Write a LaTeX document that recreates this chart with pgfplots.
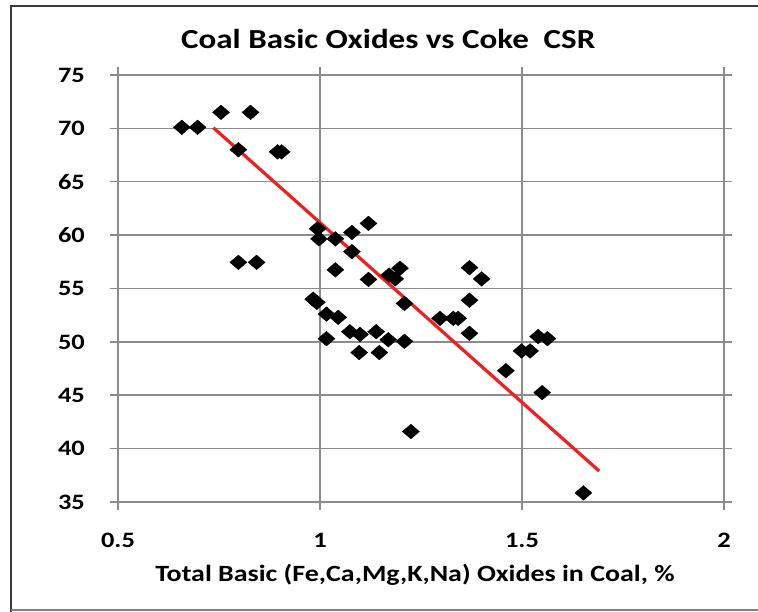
\documentclass[border=0pt]{standalone}
\usepackage{fontspec}
\setmainfont{Carlito}[FakeStretch=1.2]
\usepackage{pgfplots}
\pgfplotsset{compat=1.18}
\definecolor{gridc}{RGB}{140,140,140}
\definecolor{trend}{RGB}{238,32,32}
\pgfplotstableread{
x y
0.658 70.1
0.697 70.1
0.755 71.5
0.828 71.5
0.798 68.0
0.895 67.8
0.905 67.8
0.798 57.45
0.843 57.45
0.994 60.6
0.9975 59.65
1.038 59.65
1.079 60.25
1.12 61.1
1.038 56.75
1.079 58.45
1.12 55.85
1.171 56.25
1.198 56.9
1.186 55.9
0.983 54.0
0.992 53.7
1.016 52.6
1.045 52.3
1.209 53.6
1.297 52.2
1.33 52.2
1.342 52.2
1.37 53.9
1.37 56.95
1.40 55.9
1.37 50.8
1.016 50.3
1.074 50.95
1.099 50.7
1.139 50.95
1.169 50.2
1.209 50.05
1.097 49.0
1.147 49.0
1.225 41.6
1.46 47.3
1.499 49.15
1.52 49.15
1.54 50.5
1.563 50.3
1.55 45.25
1.652 35.85
}\datatable
\begin{document}
\begin{tikzpicture}[x=1pt,y=1pt]
\useasboundingbox (0,0) rectangle (758,612);
\fill[white] (0,0) rectangle (758,612);
\draw[line width=2.5pt, black!78] (11,0) -- (11,606) -- (758,606);
\draw[line width=1.5pt, black!50] (11,2) -- (758,2);
\begin{axis}[
  at={(118pt,110pt)}, anchor=south west,
  scale only axis, width=606pt, height=427pt,
  xmin=0.5, xmax=2, ymin=35, ymax=75,
  xtick={0.5,1,1.5,2}, ytick={35,40,...,75},
  grid=major, major grid style={gridc, line width=1.5pt},
  axis line style={gridc, line width=1.5pt},
  tick style={gridc, line width=1.5pt},
  tick align=outside, major tick length=8pt,
  /pgf/number format/assume math mode=true,
  tick label style={font=\bfseries\fontsize{22}{24}\selectfont, text=black},
  xticklabel style={anchor=base, yshift=-38pt},
  yticklabel style={anchor=east, inner sep=0pt, xshift=-25pt},
  title={Coal Basic Oxides vs Coke\ \ CSR},
  title style={font=\bfseries\fontsize{27.5}{30}\selectfont, anchor=base, at={(axis description cs:0.446,1.049)}},
  xlabel={Total Basic (Fe,Ca,Mg,K,Na) Oxides in Coal, \%},
  xlabel style={font=\bfseries\fontsize{23.3}{26}\selectfont, anchor=base, at={(axis description cs:0.49,-0.187)}},
]
\addplot[only marks, mark=diamond*, mark size=7.3pt, mark options={xscale=1.55, black, fill=black}] table[x=x,y=y] {\datatable};
\addplot[trend, line width=3.2pt, no marks] coordinates {(0.736,70.06) (1.691,37.9)};
\end{axis}
\end{tikzpicture}
\end{document}
